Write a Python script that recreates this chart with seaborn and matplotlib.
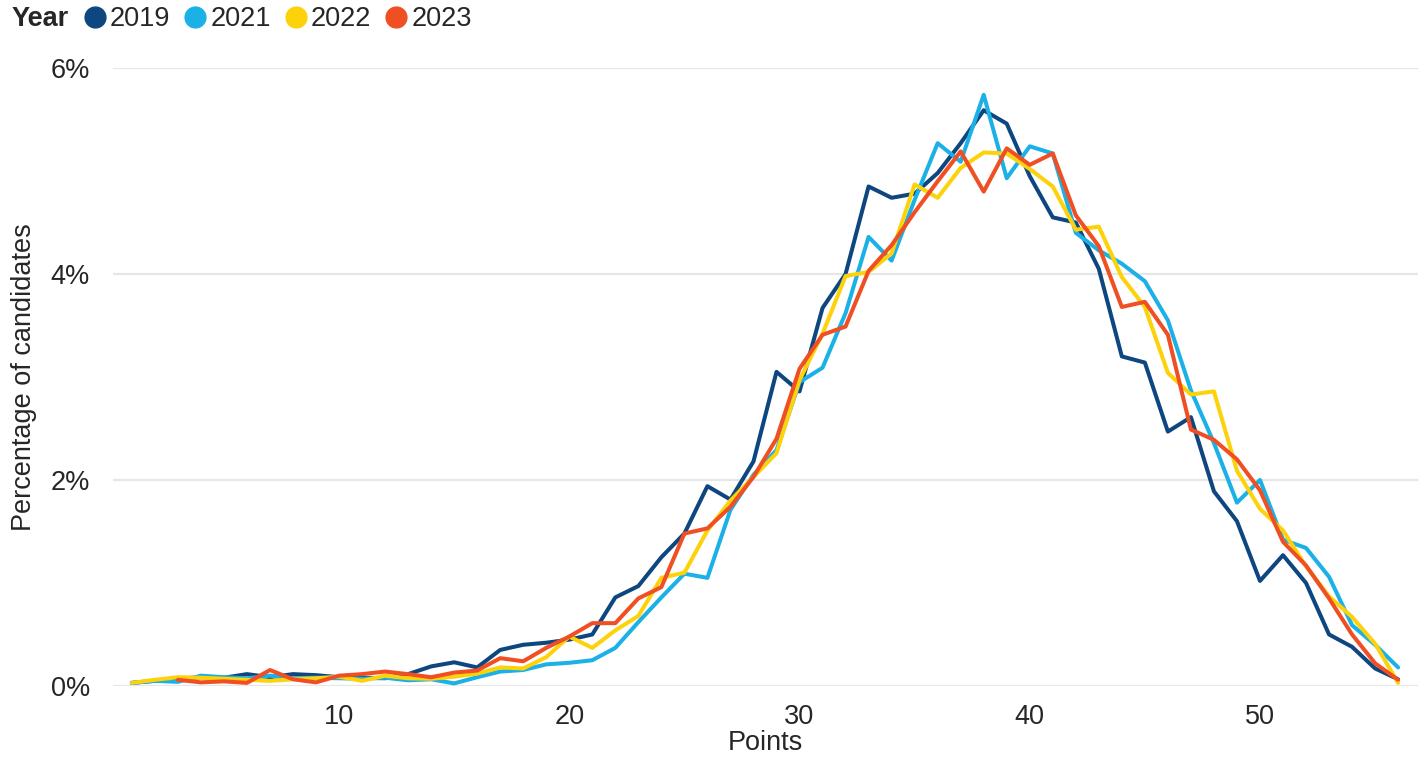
import numpy as np
import pandas as pd
import matplotlib
matplotlib.use("Agg")
import matplotlib.pyplot as plt
from matplotlib.lines import Line2D
import seaborn as sns

# points scored, 1..56
points = list(range(1, 57))

# percentage of candidates per points score
pct_2019 = [0.03, 0.05, 0.07, 0.085, 0.08, 0.115, 0.085, 0.115, 0.105, 0.085,
            0.08, 0.075, 0.115, 0.19, 0.23, 0.18, 0.35, 0.40, 0.42, 0.45,
            0.50, 0.86, 0.97, 1.25, 1.48, 1.94, 1.81, 2.18, 3.05, 2.86,
            3.67, 4.00, 4.85, 4.74, 4.78, 4.98, 5.27, 5.59, 5.46, 4.95,
            4.55, 4.50, 4.05, 3.20, 3.14, 2.47, 2.61, 1.89, 1.60, 1.02,
            1.27, 1.00, 0.50, 0.38, 0.17, 0.065]
pct_2021 = [0.03, 0.05, 0.04, 0.10, 0.085, 0.075, 0.10, 0.075, 0.08, 0.075,
            0.07, 0.08, 0.055, 0.065, 0.025, 0.085, 0.14, 0.155, 0.21, 0.225,
            0.25, 0.37, 0.62, 0.86, 1.09, 1.05, 1.71, 2.05, 2.29, 2.95,
            3.09, 3.62, 4.36, 4.13, 4.72, 5.27, 5.09, 5.74, 4.93, 5.24,
            5.17, 4.40, 4.23, 4.10, 3.93, 3.55, 2.87, 2.36, 1.78, 2.00,
            1.42, 1.34, 1.06, 0.59, 0.40, 0.18]
pct_2022 = [0.03, 0.06, 0.085, 0.08, 0.07, 0.06, 0.05, 0.065, 0.075, 0.09,
            0.05, 0.10, 0.075, 0.07, 0.09, 0.12, 0.18, 0.17, 0.28, 0.48,
            0.37, 0.54, 0.68, 1.05, 1.10, 1.51, 1.80, 2.03, 2.26, 2.97,
            3.42, 3.98, 4.02, 4.20, 4.87, 4.74, 5.03, 5.18, 5.17, 5.02,
            4.85, 4.43, 4.46, 3.97, 3.68, 3.04, 2.83, 2.86, 2.09, 1.72,
            1.51, 1.16, 0.87, 0.67, 0.41, 0.03]
# 2023 has no value for 1 and 2 points
pct_2023 = [np.nan, np.nan, 0.06, 0.035, 0.045, 0.03, 0.155, 0.065, 0.035, 0.10,
            0.115, 0.14, 0.115, 0.085, 0.13, 0.15, 0.27, 0.24, 0.37, 0.48,
            0.61, 0.61, 0.85, 0.96, 1.48, 1.53, 1.74, 2.03, 2.40, 3.08,
            3.41, 3.49, 4.03, 4.28, 4.60, 4.90, 5.19, 4.80, 5.22, 5.06,
            5.17, 4.57, 4.27, 3.68, 3.73, 3.41, 2.49, 2.39, 2.20, 1.90,
            1.40, 1.17, 0.85, 0.50, 0.22, 0.06]

years = ["2019", "2021", "2022", "2023"]
colors = ["#0E4680", "#1BB1E7", "#FDD20A", "#F04E23"]

frames = []
for yr, vals in zip(years, [pct_2019, pct_2021, pct_2022, pct_2023]):
    frames.append(pd.DataFrame({"Points": points, "Pct": vals, "Year": yr}))
df = pd.concat(frames).dropna()

sns.set_theme(style="white")
plt.rcParams['font.family'] = ['Liberation Sans', 'DejaVu Sans']
txt = "#262626"
fs = 19.5

fig = plt.figure(figsize=(14.28, 7.6), dpi=100)
ax = fig.add_axes([0.0791, 0.0974, 0.914, 0.8131])

sns.lineplot(data=df, x="Points", y="Pct", hue="Year", palette=colors,
             hue_order=years, linewidth=2.9, legend=False, ax=ax)

ax.set_xlim(0.18, 56.87)
ax.set_ylim(0, 6)
ax.set_xticks([10, 20, 30, 40, 50])
ax.set_yticks([0, 2, 4, 6])
ax.set_yticklabels([f"{v}%" for v in [0, 2, 4, 6]])
ax.tick_params(axis="x", length=0, pad=13, labelsize=fs, labelcolor=txt)
ax.tick_params(axis="y", length=0, pad=16.5, labelsize=fs, labelcolor=txt)
ax.grid(axis="y", color="#E6E6E6", linewidth=1.6)
ax.grid(axis="x", visible=False)
ax.set_axisbelow(True)
for s in ax.spines.values():
    s.set_visible(False)

ax.set_xlabel("Points", fontsize=fs, color=txt, labelpad=0)
ax.set_ylabel("Percentage of candidates", fontsize=fs, color=txt, labelpad=10)

# legend across the top
fig.text(0.008, 0.975, "Year", fontsize=fs, fontweight="bold", color=txt,
         va="center", ha="left")
handles = [Line2D([], [], marker="o", linestyle="", color=c, markersize=15)
           for c in colors]
fig.legend(handles, years, loc="center left", bbox_to_anchor=(0.0588, 0.975),
           ncol=4, frameon=False, fontsize=fs, handlelength=0.8,
           handletextpad=0.16, columnspacing=0.52, borderpad=0, borderaxespad=0,
           labelcolor=txt)

fig.savefig("out.png", dpi=100)
